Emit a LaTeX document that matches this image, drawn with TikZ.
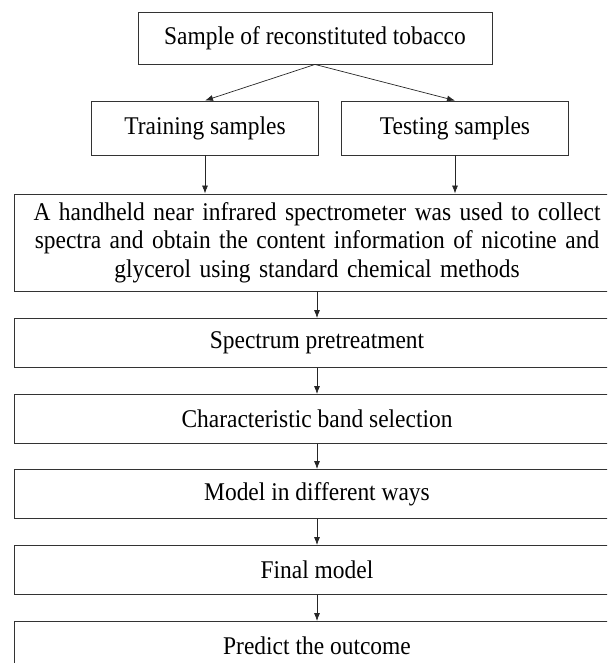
\documentclass[tikz,border=0pt]{standalone}
\usepackage{fontspec}
\setmainfont{Liberation Serif}[FakeStretch=0.92]
\usetikzlibrary{arrows.meta}

\begin{document}
\begin{tikzpicture}[x=1pt,y=-1pt,
  box/.style={draw=black!80, line width=0.9pt, minimum height=49pt, inner sep=0pt,
    font=\fontsize{25.5}{28.5}\selectfont},
  wide/.style={box, minimum width=606pt},
  arr/.style={-{Latex[length=8pt,width=6pt]}, line width=0.7pt, black!85}]
  \clip (0,0) rectangle (607,663);

  % Source and the two sample sets
  \node[box, minimum width=354pt, minimum height=52pt] (sample) at (315,38) {Sample of reconstituted tobacco};
  \node[box, minimum width=227pt, minimum height=54pt] (train) at (205,128) {Training samples};
  \node[box, minimum width=227pt, minimum height=54pt] (test) at (455,128) {Testing samples};

  % Measurement step
  \node[wide, minimum height=97pt, text width=590pt, align=center] (nir) at (317,242.5)
    {A handheld near infrared spectrometer was used to collect\\
     spectra and obtain the content information of nicotine and\\
     glycerol using standard chemical methods};

  % Processing chain
  \node[wide] (spec)  at (317,343) {Spectrum pretreatment};
  \node[wide] (band)  at (317,419) {Characteristic band selection};
  \node[wide] (model) at (317,494) {Model in different ways};
  \node[wide] (final) at (317,570) {Final model};
  \node[wide] (pred)  at (317,646) {Predict the outcome};

  % Arrows
  \draw[arr] (sample.south) -- (train.north);
  \draw[arr] (sample.south) -- (test.north);
  \draw[arr] (train.south) -- (train.south |- nir.north);
  \draw[arr] (test.south) -- (test.south |- nir.north);
  \foreach \a/\b in {nir/spec, spec/band, band/model, model/final, final/pred}
    \draw[arr] (\a) -- (\b);
\end{tikzpicture}
\end{document}
